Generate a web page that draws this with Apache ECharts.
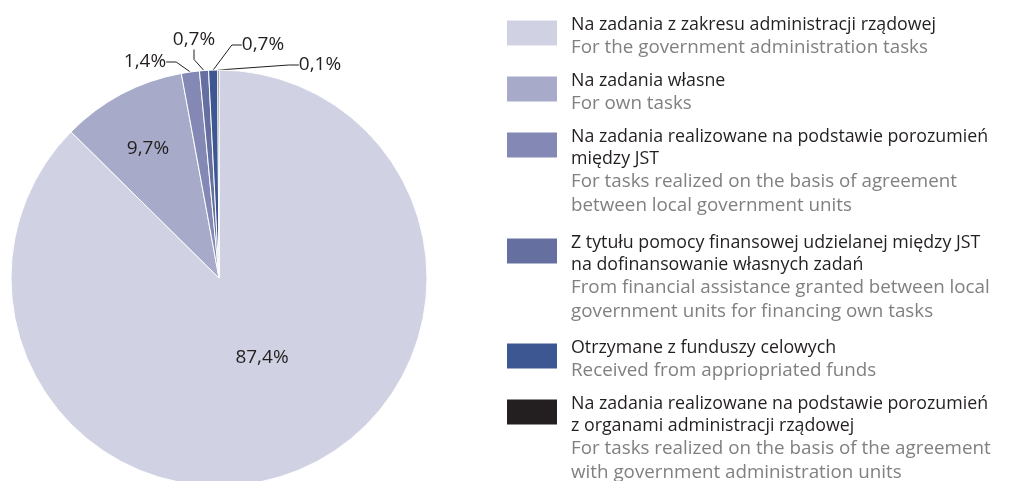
<!DOCTYPE html>
<html>
<head>
<meta charset="utf-8">
<script src="https://cdn.jsdelivr.net/npm/echarts@6/dist/echarts.min.js"></script>
<style>
html,body{margin:0;padding:0;background:#fff;}
#chart{width:1021px;height:481px;}
</style>
</head>
<body>
<div id="chart"></div>
<script>
const categoriesPl = [
  'Na zadania z zakresu administracji rządowej',
  'Na zadania własne',
  'Na zadania realizowane na podstawie porozumień\nmiędzy JST',
  'Z tytułu pomocy finansowej udzielanej między JST\nna dofinansowanie własnych zadań',
  'Otrzymane z funduszy celowych',
  'Na zadania realizowane na podstawie porozumień\nz organami administracji rządowej'
];
const categoriesEn = [
  'For the government administration tasks',
  'For own tasks',
  'For tasks realized on the basis of agreement\nbetween local government units',
  'From financial assistance granted between local\ngovernment units for financing own tasks',
  'Received from appriopriated funds',
  'For tasks realized on the basis of the agreement\nwith government administration units'
];
const values = [87.4, 9.7, 1.4, 0.7, 0.7, 0.1];
const colors = ['#d0d2e4', '#a7aac8', '#8389b4', '#6570a0', '#3d5793', '#231f20'];
// label anchor positions (centre of text)
const labelPos = [[262, 358], [148, 149], [145, 62], [194, 40], [263, 45], [320, 65]];
// baseline y of the first text line of each legend entry
const legendFirstBaseline = [28, 84, 140, 246, 351, 407];

const FONT = '"Open Sans", sans-serif';
const LP = 22, LE = 24;

const legends = categoriesPl.map(function (pl, i) {
  const nP = pl.split('\n').length, nE = categoriesEn[i].split('\n').length;
  const H = nP * LP + nE * LE;
  const pt = Math.max(0, H - 38);
  return {
    show: true,
    orient: 'vertical',
    left: 505,
    top: legendFirstBaseline[i] - 12,
    padding: 0,
    itemWidth: 52,
    itemHeight: 27,
    icon: 'rect',
    selectedMode: false,
    data: [pl],
    formatter: function (name) {
      const idx = categoriesPl.indexOf(name);
      const a = categoriesPl[idx].split('\n').map(function (s) { return '{p|' + s + '}'; });
      const b = categoriesEn[idx].split('\n').map(function (s) { return '{e|' + s + '}'; });
      return a.concat(b).join('\n');
    },
    textStyle: {
      padding: [pt, 0, 0, 8],
      rich: {
        p: { fontFamily: FONT, fontSize: 17.8, color: '#231f20', lineHeight: LP },
        e: { fontFamily: FONT, fontSize: 18.8, color: '#808080', lineHeight: LE }
      }
    }
  };
});

const chart = echarts.init(document.getElementById('chart'), null, { renderer: 'canvas' });
chart.setOption({
  animation: false,
  backgroundColor: '#ffffff',
  color: colors,
  legend: legends,
  series: [{
    type: 'pie',
    center: [219, 278],
    radius: 208,
    startAngle: 90,
    clockwise: true,
    avoidLabelOverlap: false,
    itemStyle: { borderColor: '#ffffff', borderWidth: 1 },
    label: {
      show: true,
      fontFamily: FONT,
      fontSize: 19,
      color: '#231f20',
      formatter: function (p) { return p.value.toFixed(1).replace('.', ',') + '%'; }
    },
    labelLine: { show: true, lineStyle: { color: '#231f20', width: 1 }, length: 10, length2: 10 },
    labelLayout: function (params) {
      const pos = labelPos[params.dataIndex];
      return { x: pos[0], y: pos[1], align: 'center', verticalAlign: 'middle' };
    },
    data: categoriesPl.map(function (n, i) {
      const d = { name: n, value: values[i] };
      if (i < 2) { d.labelLine = { show: false }; }
      return d;
    })
  }]
});
</script>
</body>
</html>
